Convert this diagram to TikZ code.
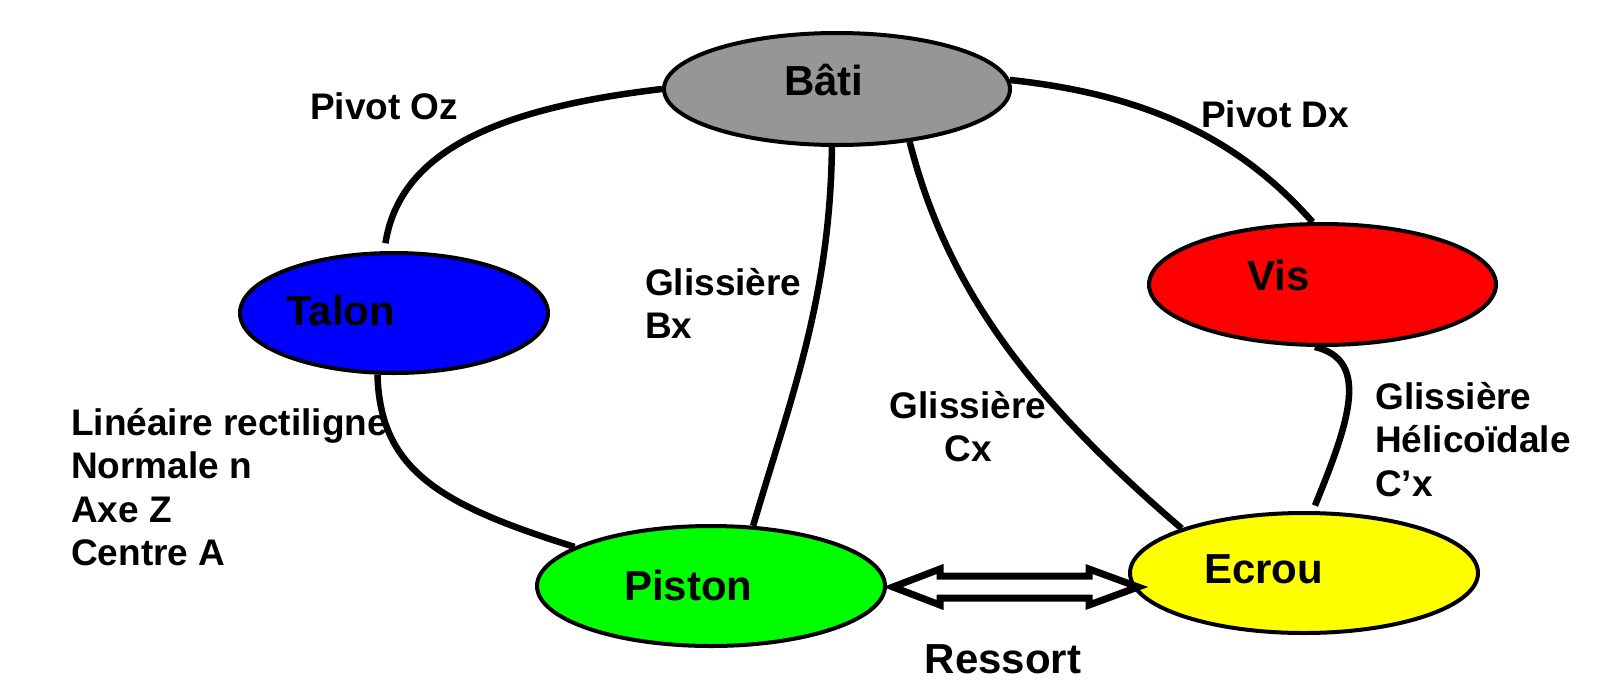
\documentclass[tikz,border=0pt]{standalone}
\usepackage{fontspec}
\setmainfont{Liberation Sans}
\usetikzlibrary{shapes.geometric}
\definecolor{bgray}{RGB}{150,150,150}
\definecolor{pblue}{RGB}{0,0,255}
\definecolor{pred}{RGB}{255,0,0}
\definecolor{pgreen}{RGB}{0,255,0}
\definecolor{pyellow}{RGB}{255,255,0}
\tikzset{
  part/.style={ellipse, draw=black, line width=4pt, inner sep=0pt},
  ptext/.style={font=\fontsize{42}{50}\selectfont\bfseries, inner sep=0pt, anchor=base west},
  lbl/.style={font=\fontsize{37}{43.5}\selectfont\bfseries, inner sep=0pt, align=left},
  link/.style={line width=6.5pt, draw=black},
  spring/.style={line width=7pt, draw=black, fill=white, line join=miter},
}
\begin{document}
\begin{tikzpicture}[x=1pt, y=-1pt]
\useasboundingbox (0,0) rectangle (1605,699);

% parts
\node[part, fill=bgray, minimum width=346pt, minimum height=112pt] (bati) at (837,89) {};
\node[part, fill=pblue, minimum width=308pt, minimum height=120pt] (talon) at (394,313) {};
\node[part, fill=pred, minimum width=347pt, minimum height=121pt] (vis) at (1322.5,284.5) {};
\node[part, fill=pgreen, minimum width=348pt, minimum height=120pt] (piston) at (711,586) {};
\node[part, fill=pyellow, minimum width=348pt, minimum height=120pt] (ecrou) at (1304,573) {};

\node[ptext] (batiT) at (784,95) {Bâti};
\node[ptext] (talonT) at (286,325) {Talon};
\node[ptext] (visT) at (1247,290) {Vis};
\node[ptext] (pistonT) at (624,600) {Piston};
\node[ptext] (ecrouT) at (1204,583) {Ecrou};

% liaisons
\draw[link, shorten >=8pt] (bati.180) .. controls (500,108) and (400,150) .. (talon.99);
\draw[link] (bati.3) .. controls (1150,95) and (1240,140) .. (vis.99);
\draw[link] (bati.265) .. controls (830,300) and (790,400) .. (piston.55);
\draw[link] (bati.324) .. controls (945,280) and (1020,390) .. (ecrou.160);
\draw[link] (talon.255) .. controls (380,470) and (440,505) .. (piston.164);
\draw[link, shorten >=6pt] (vis.263) .. controls (1370,360) and (1350,420) .. (ecrou.82);

% ressort (double flèche)
\draw[spring] (893,587) -- (940,569) -- (940,576) -- (1089,576) -- (1089,569)
  -- (1138,587) -- (1089,605) -- (1089,598) -- (940,598) -- (940,605) -- cycle;

% labels
\node[lbl, anchor=base west] (lOz) at (310,119) {Pivot Oz};
\node[lbl, anchor=base west] (lDx) at (1201,127) {Pivot Dx};
\node[lbl, anchor=north west] (lBx) at (645,268) {Glissière\\Bx};
\node[lbl, anchor=north, align=center] (lCx) at (968,391) {Glissière\\Cx};
\node[lbl, anchor=north west] (lHx) at (1375,382) {Glissière\\Hélicoïdale\\C’x};
\node[lbl, anchor=north west] (lLin) at (71,408) {Linéaire rectiligne\\Normale n\\Axe Z\\Centre A};
\node[ptext, anchor=base] (lRes) at (1003,673) {Ressort};
\end{tikzpicture}
\end{document}
